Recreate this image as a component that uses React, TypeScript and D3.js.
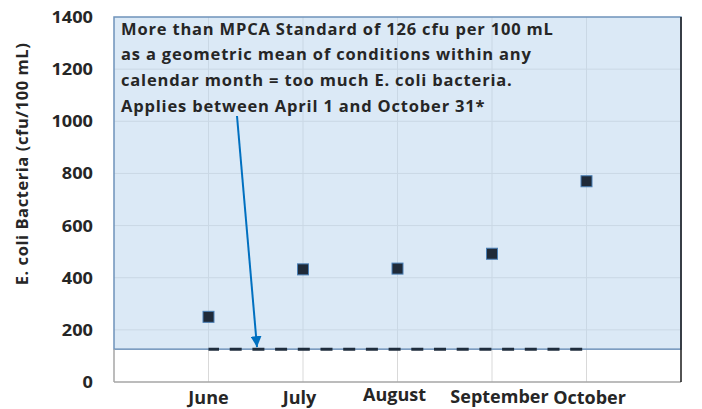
import React, { useEffect, useRef } from 'react';
import * as d3 from 'd3';

const months = ['June', 'July', 'August', 'September', 'October'];
const ecoli = [250, 432, 435, 492, 770];
const standard = 126;
const yTicks = [0, 200, 400, 600, 800, 1000, 1200, 1400];
const noteLines = [
  'More than MPCA Standard of 126 cfu per 100 mL',
  'as a geometric mean of conditions within any',
  'calendar month = too much E. coli bacteria.',
  'Applies between April 1 and October 31*',
];
const yTitle = 'E. coli Bacteria (cfu/100 mL)';

const W = 702;
const H = 409;

// spread letters of a text selection so that the reference text reaches a target width
function spreadTo(sel: d3.Selection<SVGTextElement, any, any, any>, refNode: SVGTextElement, target: number) {
  const w = refNode.getComputedTextLength();
  const n = (refNode.textContent || '').length;
  const ls = Math.max(0, (target - w) / Math.max(1, n - 1));
  sel.attr('letter-spacing', ls.toFixed(2));
  return ls;
}

export default function App() {
  const svgRef = useRef<SVGSVGElement>(null);

  useEffect(() => {
    if (!svgRef.current) return;
    const svg = d3.select(svgRef.current);
    svg.selectAll('*').remove();

    const left = 114, right = 681, top = 17, bottom = 382;
    const x = d3.scaleLinear().domain([0, months.length + 1]).range([left, right]);
    const y = d3.scaleLinear().domain([0, 1400]).range([bottom, top]);
    const font = '"Open Sans", Lato, sans-serif';
    const ink = '#262626';

    // grid
    const grid = svg.append('g').attr('stroke', '#d9d9d9').attr('stroke-width', 1);
    grid.selectAll('line.h')
      .data(yTicks.filter(d => d > 0 && d < 1400))
      .enter().append('line')
      .attr('x1', left).attr('x2', right)
      .attr('y1', d => y(d)).attr('y2', d => y(d));
    grid.selectAll('line.v')
      .data(months)
      .enter().append('line')
      .attr('x1', (_, i) => x(i + 1)).attr('x2', (_, i) => x(i + 1))
      .attr('y1', top).attr('y2', bottom);

    // shaded exceedance zone
    svg.append('rect')
      .attr('x', left).attr('y', y(1400))
      .attr('width', right - left).attr('height', y(standard) - y(1400))
      .attr('fill', 'rgb(189,215,238)').attr('fill-opacity', 0.55)
      .attr('stroke', '#6f93bb').attr('stroke-width', 1.5);

    // axes
    svg.append('line').attr('x1', left).attr('x2', right).attr('y1', bottom).attr('y2', bottom)
      .attr('stroke', '#a6a6a6').attr('stroke-width', 1.5);
    svg.append('line').attr('x1', left).attr('x2', left).attr('y1', y(standard)).attr('y2', bottom)
      .attr('stroke', '#a6a6a6').attr('stroke-width', 1.5);
    svg.append('line').attr('x1', right).attr('x2', right).attr('y1', top).attr('y2', bottom)
      .attr('stroke', '#1a1a1a').attr('stroke-width', 1.5);

    // standard line
    const line = d3.line<number>().x((_, i) => x(i + 1)).y(d => y(d));
    svg.append('path')
      .datum(months.map(() => standard))
      .attr('d', line)
      .attr('fill', 'none')
      .attr('stroke', '#1f2d3d')
      .attr('stroke-width', 3)
      .attr('stroke-dasharray', '12 10.7')
      .attr('stroke-dashoffset', 1.5);

    // markers
    svg.selectAll('rect.pt')
      .data(ecoli)
      .enter().append('rect')
      .attr('x', (_, i) => x(i + 1) - 5.5)
      .attr('y', d => y(d) - 5.5)
      .attr('width', 11).attr('height', 11)
      .attr('fill', '#1f2a38')
      .attr('stroke', '#4a7fb5').attr('stroke-width', 1);

    // y tick labels
    svg.append('g').selectAll<SVGTextElement, number>('text')
      .data(yTicks)
      .enter().append('text')
      .attr('x', 93).attr('y', d => y(d))
      .attr('dy', '0.36em')
      .attr('text-anchor', 'end')
      .attr('font-family', font).attr('font-weight', 'bold').attr('font-size', 16.5)
      .attr('textLength', d => String(d).length * 10.4)
      .attr('lengthAdjust', 'spacingAndGlyphs')
      .attr('fill', ink)
      .text(d => d);

    // x labels
    const lift = [0, 0, -2.5, -1, 0];
    const shift = [0, -3.5, -3, 7.5, 3];
    svg.append('g').selectAll('text')
      .data(months)
      .enter().append('text')
      .attr('x', (_, i) => x(i + 1) + shift[i])
      .attr('y', (_, i) => 403.5 + lift[i])
      .attr('text-anchor', 'middle')
      .attr('font-family', font).attr('font-weight', 'bold').attr('font-size', 18)
      .attr('fill', ink)
      .text(d => d);

    // y title
    const title = svg.append('text')
      .attr('transform', `translate(28,164) rotate(-90)`)
      .attr('text-anchor', 'middle')
      .attr('font-family', font).attr('font-weight', 'bold').attr('font-size', 16.5)
      .attr('fill', ink)
      .text(yTitle);
    spreadTo(title as any, title.node() as SVGTextElement, 242);

    // note
    const note = svg.append('g').selectAll<SVGTextElement, string>('text')
      .data(noteLines)
      .enter().append('text')
      .attr('x', 121)
      .attr('y', (_, i) => 34.5 + i * 25.9)
      .attr('font-family', font).attr('font-weight', 'bold').attr('font-size', 16.5)
      .attr('fill', ink)
      .text(d => d);
    spreadTo(note, note.nodes()[0], 432);

    // arrow
    svg.append('defs').append('marker')
      .attr('id', 'arrowhead')
      .attr('viewBox', '0 0 10 10')
      .attr('refX', 10).attr('refY', 5)
      .attr('markerWidth', 5.5).attr('markerHeight', 5.5)
      .attr('orient', 'auto')
      .append('path').attr('d', 'M0,0 L10,5 L0,10 Z').attr('fill', '#0070c0');
    svg.append('line')
      .attr('x1', 237).attr('y1', 116)
      .attr('x2', 257).attr('y2', y(standard) - 2)
      .attr('stroke', '#0070c0').attr('stroke-width', 2)
      .attr('marker-end', 'url(#arrowhead)');
  }, []);

  return (
    <svg
      ref={svgRef}
      width={W}
      height={H}
      style={{ position: 'absolute', left: 0, top: 0, background: '#fff' }}
    />
  );
}
